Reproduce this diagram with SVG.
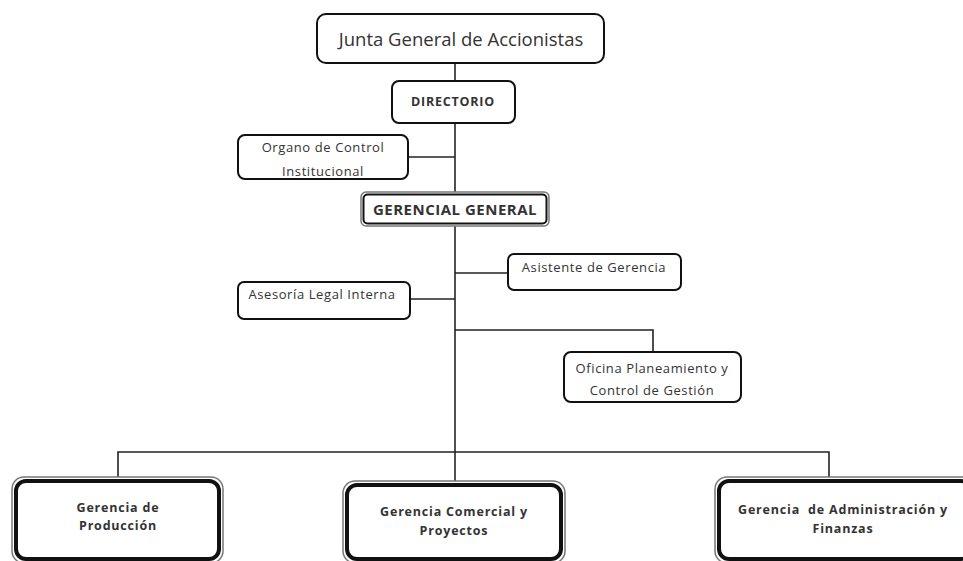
<svg xmlns="http://www.w3.org/2000/svg" width="963" height="561" viewBox="0 0 963 561">
<style>
.box{fill:#fff;stroke:#111;stroke-width:2}
.t{font-family:"Open Sans","Liberation Sans",sans-serif;fill:#333;text-anchor:middle}
.s{font-size:13px;letter-spacing:0.6px}
.bb{font-weight:bold;font-size:12.5px;letter-spacing:0.8px}
.ln{fill:none;stroke:#222;stroke-width:1.6}
.outer{fill:#fff;stroke:#777;stroke-width:1.5}
.thick{fill:none;stroke:#111;stroke-width:4}
</style>
<rect width="963" height="561" fill="#fff"/>
<g id="connectors">
<line class="ln" x1="455" y1="63" x2="455" y2="452"/>
<line class="ln" x1="408" y1="157" x2="455" y2="157"/>
<line class="ln" x1="455" y1="273" x2="508" y2="273"/>
<line class="ln" x1="410" y1="299" x2="455" y2="299"/>
<polyline class="ln" points="455,330 653,330 653,352"/>
<polyline class="ln" points="118,478 118,452 829,452 829,477"/>
<line class="ln" x1="455" y1="452" x2="455" y2="481"/>
</g>
<g id="junta">
<rect class="box" x="317" y="14" width="287" height="49" rx="9"/>
<text class="t" x="461" y="46" font-size="18.5" fill="#444">Junta General de Accionistas</text>
</g>
<g id="directorio">
<rect class="box" x="392" y="81" width="123" height="42" rx="7"/>
<text class="t bb" x="453" y="106">DIRECTORIO</text>
</g>
<g id="organo">
<rect class="box" x="238" y="135" width="170" height="44" rx="7"/>
<text class="t s" x="323" y="152">Organo de Control</text>
<text class="t s" x="323" y="176">Institucional</text>
</g>
<g id="gerencial">
<rect class="outer" x="361" y="192" width="188" height="34" rx="5"/>
<rect class="box" x="363.5" y="194.5" width="183" height="29" rx="4"/>
<text class="t" x="455" y="214.5" font-size="15" font-weight="bold" letter-spacing="0.5">GERENCIAL GENERAL</text>
</g>
<g id="asistente">
<rect class="box" x="508" y="254" width="173" height="36" rx="6"/>
<text class="t s" x="594" y="272">Asistente de Gerencia</text>
</g>
<g id="asesoria">
<rect class="box" x="238" y="282" width="172" height="37" rx="6"/>
<text class="t s" x="322" y="299">Asesoría Legal Interna</text>
</g>
<g id="oficina">
<rect class="box" x="564" y="352" width="177" height="50" rx="7"/>
<text class="t s" x="652" y="373">Oficina Planeamiento y</text>
<text class="t s" x="652" y="395">Control de Gestión</text>
</g>
<g id="produccion">
<rect class="outer" x="12" y="477" width="211" height="86" rx="12"/>
<rect class="thick" x="16" y="481" width="203" height="78" rx="10"/>
<text class="t bb" x="118" y="512">Gerencia de</text>
<text class="t bb" x="118" y="530">Producción</text>
</g>
<g id="comercial">
<rect class="outer" x="343" y="481" width="222" height="82" rx="12"/>
<rect class="thick" x="347" y="485" width="214" height="74" rx="10"/>
<text class="t bb" x="454" y="516">Gerencia Comercial y</text>
<text class="t bb" x="454" y="535">Proyectos</text>
</g>
<g id="finanzas">
<rect class="outer" x="715" y="477" width="260" height="86" rx="12"/>
<rect class="thick" x="719" y="481" width="252" height="78" rx="10"/>
<text class="t bb" x="843" y="514" xml:space="preserve">Gerencia  de Administración y</text>
<text class="t bb" x="843" y="533">Finanzas</text>
</g>
</svg>
